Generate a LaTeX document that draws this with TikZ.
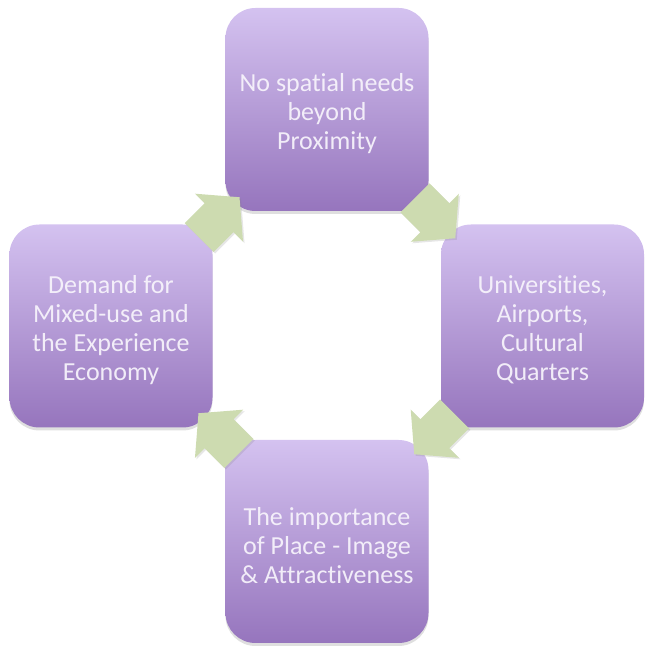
\documentclass[tikz,border=0pt]{standalone}
\usepackage{fontspec}
\setmainfont{Carlito}[Ligatures={NoCommon,NoContextual}]
\usetikzlibrary{shadows,calc}
\definecolor{boxtop}{RGB}{212,194,240}
\definecolor{boxbot}{RGB}{150,117,189}
\definecolor{arrowgreen}{RGB}{205,219,176}
\definecolor{txtcol}{RGB}{248,245,252}
\tikzset{
  cyclebox/.style={minimum width=203pt, minimum height=203pt, inner sep=0pt,
    rounded corners=30pt, top color=boxtop, bottom color=boxbot, draw=none,
    drop shadow={shadow xshift=0pt, shadow yshift=-3pt, opacity=0.25}},
  boxtext/.style={text=txtcol, text opacity=0.92, align=center, inner sep=0pt,
    font=\fontsize{26}{29}\selectfont},
  cyclearrow/.pic={
    \fill[arrowgreen, drop shadow={shadow xshift=1.5pt, shadow yshift=-1.5pt, opacity=0.2}]
      (-28,-20.5) -- (0,-20.5) -- (0,-34) -- (29,0) -- (0,34) -- (0,20.5) -- (-28,20.5) -- cycle;
  }
}
\begin{document}
\begin{tikzpicture}[x=1pt,y=1pt]
\useasboundingbox (0,0) rectangle (652,652);
\node[cyclebox] (top)    at (327,542.5) {};
\node[cyclebox] (right)  at (542.5,326) {};
\node[cyclebox] (bottom) at (327,110.5) {};
\node[cyclebox] (left)   at (111,326)   {};
\node[boxtext] (ttop)    at ([yshift=-4pt]top.center)    {No spatial needs\\beyond\\Proximity};
\node[boxtext] (tright)  at ([yshift=-4pt]right.center)  {Universities,\\Airports,\\Cultural\\Quarters};
\node[boxtext] (tbottom) at ([yshift=-4pt]bottom.center) {The importance\\of Place - Image\\\& Attractiveness};
\node[boxtext] (tleft)   at ([yshift=-4pt]left.center)   {Demand for\\Mixed-use and\\the Experience\\Economy};
\pic[rotate=45]   (a1) at ($(left.north east)!0.5!(top.south west)$) {cyclearrow};
\pic[rotate=-45]  (a2) at ($(top.south east)!0.5!(right.north west)$) {cyclearrow};
\pic[rotate=-135] (a3) at ($(right.south west)!0.5!(bottom.north east)$) {cyclearrow};
\pic[rotate=135]  (a4) at ($(bottom.north west)!0.5!(left.south east)$) {cyclearrow};
\end{tikzpicture}
\end{document}
